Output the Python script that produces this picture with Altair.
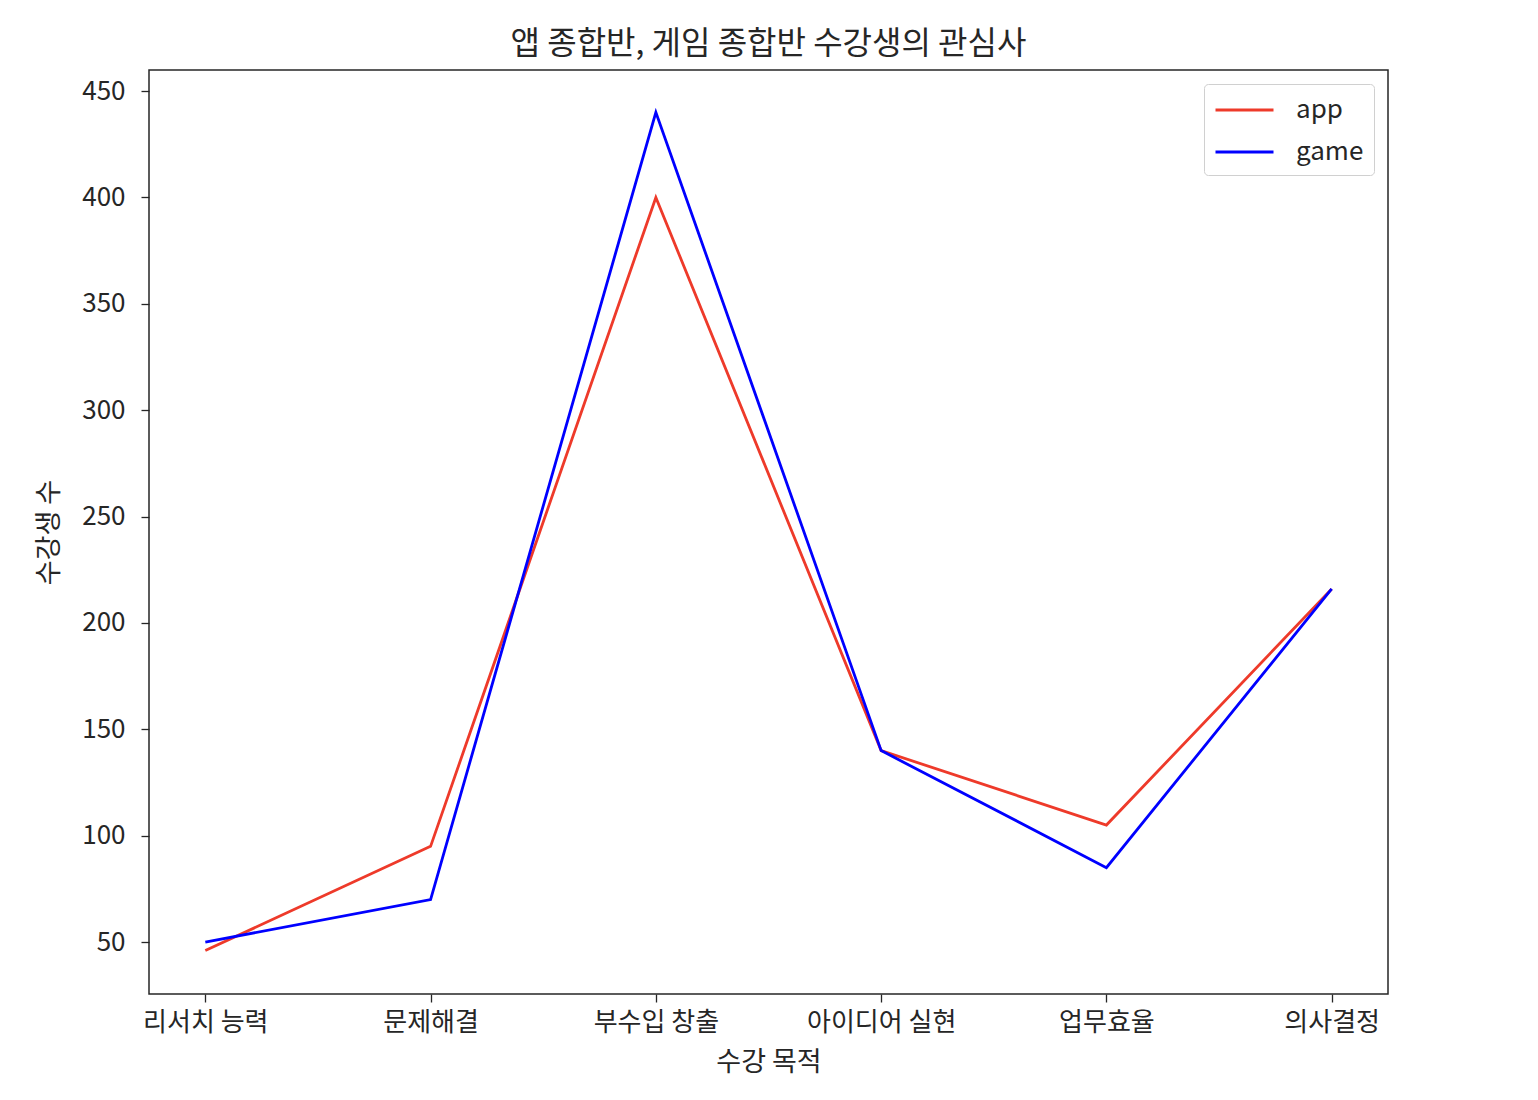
import altair as alt
import pandas as pd

categories = ["리서치 능력", "문제해결", "부수입 창출", "아이디어 실현", "업무효율", "의사결정"]
app_values = [46, 95, 400, 140, 105, 216]
game_values = [50, 70, 440, 140, 85, 216]
series_names = ["app", "game"]
y_ticks = [50, 100, 150, 200, 250, 300, 350, 400, 450]

rows = []
for c, a in zip(categories, app_values):
    rows.append({"purpose": c, "count": a, "series": "app"})
for c, g in zip(categories, game_values):
    rows.append({"purpose": c, "count": g, "series": "game"})
df = pd.DataFrame(rows)

FONT = "Noto Sans CJK KR"
TXT = "#262626"

chart = (
    alt.Chart(df)
    .mark_line(strokeWidth=2.8)
    .encode(
        x=alt.X(
            "purpose:N",
            sort=categories,
            scale=alt.Scale(type="point", padding=0.25),
            axis=alt.Axis(
                title="수강 목적",
                labelAngle=0,
                grid=False,
                domain=False,
                tickSize=8,
                tickColor=TXT,
                tickWidth=1.3,
                labelPadding=7,
                titlePadding=14,
            ),
        ),
        y=alt.Y(
            "count:Q",
            scale=alt.Scale(domain=[25.6, 459.9], nice=False, zero=False),
            axis=alt.Axis(
                title="수강생 수",
                values=y_ticks,
                grid=False,
                domain=False,
                tickSize=8,
                tickColor=TXT,
                tickWidth=1.3,
                labelPadding=16,
                titlePadding=18,
            ),
        ),
        color=alt.Color(
            "series:N",
            scale=alt.Scale(domain=series_names, range=["#ee3a2a", "#0000ff"]),
            legend=alt.Legend(
                title=None,
                orient="top-right",
                offset=14,
                padding=10,
                fillColor="white",
                strokeColor="#d0d0d0",
                cornerRadius=4,
                symbolType="M-1,0H3",
                symbolSize=841,
                symbolStrokeWidth=3,
                labelFontSize=26,
                labelFont=FONT,
                labelColor=TXT,
                labelOffset=50,
                rowPadding=13,
            ),
        ),
        detail="series:N",
    )
    .properties(
        width=1239,
        height=924,
        title=alt.TitleParams(
            "앱 종합반, 게임 종합반 수강생의 관심사",
            font=FONT,
            fontSize=32,
            fontWeight="normal",
            color=TXT,
            offset=9,
        ),
        padding={"left": 141, "top": 62, "right": 142, "bottom": 98},
        autosize=alt.AutoSizeParams(type="none"),
    )
    .configure_view(stroke=TXT, strokeWidth=1.5)
    .configure_axis(
        labelFont=FONT,
        labelFontSize=26,
        labelColor=TXT,
        titleFont=FONT,
        titleFontSize=27,
        titleFontWeight="normal",
        titleColor=TXT,
    )
)

chart.save("out.html", embed_options={"renderer": "svg", "actions": False})
